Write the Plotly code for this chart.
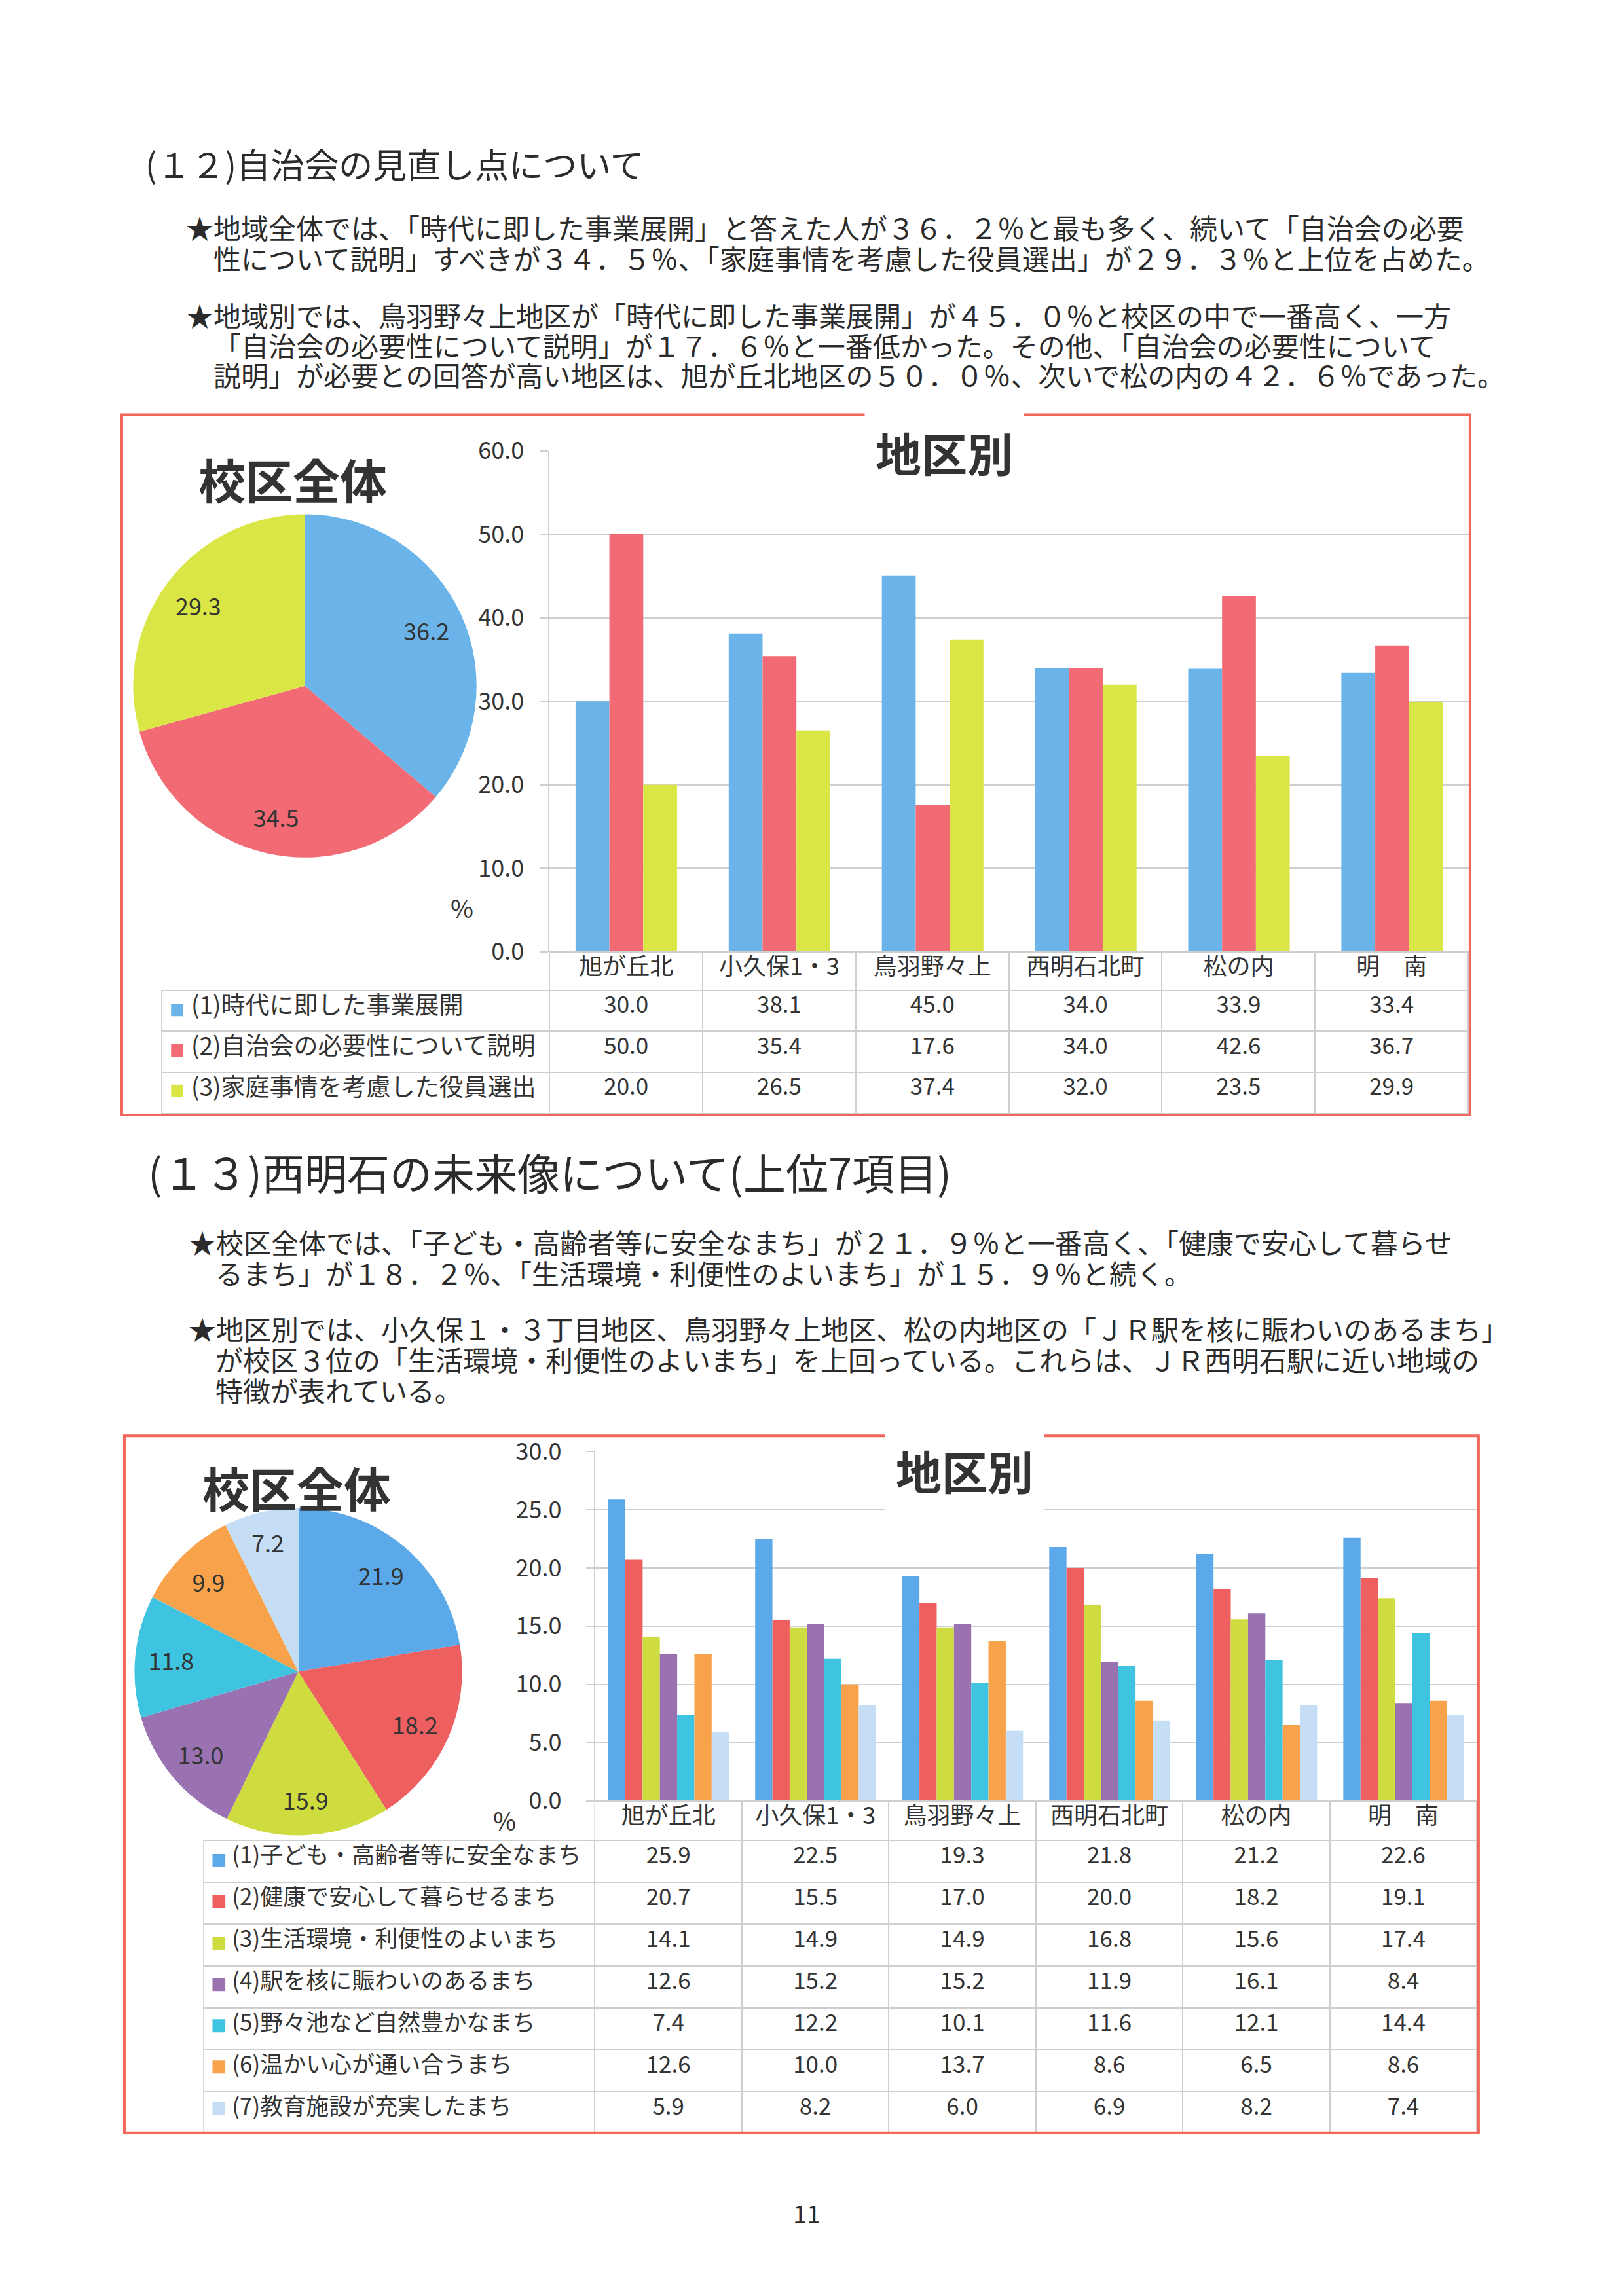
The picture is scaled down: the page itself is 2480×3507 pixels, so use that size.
import plotly.graph_objects as go

W, H = 2480, 3507
FONT = "Noto Sans CJK JP"
TXT = "#2b2b2b"
GRID = "#CFCFCF"
BOX = "#F2665C"

# ---------------- data ----------------
districts = ["旭が丘北", "小久保1・3", "鳥羽野々上", "西明石北町", "松の内", "明　南"]

# (12)
items12 = ["(1)時代に即した事業展開", "(2)自治会の必要性について説明", "(3)家庭事情を考慮した役員選出"]
pie12 = [36.2, 34.5, 29.3]
a12_1 = [30.0, 38.1, 45.0, 34.0, 33.9, 33.4]
a12_2 = [50.0, 35.4, 17.6, 34.0, 42.6, 36.7]
a12_3 = [20.0, 26.5, 37.4, 32.0, 23.5, 29.9]
colors12 = ["#6AB4EA", "#F26B74", "#D9E645"]

# (13)
items13 = ["(1)子ども・高齢者等に安全なまち", "(2)健康で安心して暮らせるまち", "(3)生活環境・利便性のよいまち",
           "(4)駅を核に賑わいのあるまち", "(5)野々池など自然豊かなまち", "(6)温かい心が通い合うまち",
           "(7)教育施設が充実したまち"]
pie13 = [21.9, 18.2, 15.9, 13.0, 11.8, 9.9, 7.2]
b13_1 = [25.9, 22.5, 19.3, 21.8, 21.2, 22.6]
b13_2 = [20.7, 15.5, 17.0, 20.0, 18.2, 19.1]
b13_3 = [14.1, 14.9, 14.9, 16.8, 15.6, 17.4]
b13_4 = [12.6, 15.2, 15.2, 11.9, 16.1, 8.4]
b13_5 = [7.4, 12.2, 10.1, 11.6, 12.1, 14.4]
b13_6 = [12.6, 10.0, 13.7, 8.6, 6.5, 8.6]
b13_7 = [5.9, 8.2, 6.0, 6.9, 8.2, 7.4]
colors13 = ["#5BA9E8", "#EE5F60", "#CFDC40", "#9A72B2", "#3EC4E0", "#F9A24C", "#C6DDF6"]

yticks12 = [0, 10, 20, 30, 40, 50, 60]
yticks13 = [0, 5, 10, 15, 20, 25, 30]

heading12 = "(１２)自治会の見直し点について"
para12 = [
    "★地域全体では、「時代に即した事業展開」と答えた人が３６．２％と最も多く、続いて「自治会の必要",
    "性について説明」すべきが３４．５％、「家庭事情を考慮した役員選出」が２９．３％と上位を占めた。",
    "★地域別では、鳥羽野々上地区が「時代に即した事業展開」が４５．０％と校区の中で一番高く、一方",
    "「自治会の必要性について説明」が１７．６％と一番低かった。その他、「自治会の必要性について",
    "説明」が必要との回答が高い地区は、旭が丘北地区の５０．０％、次いで松の内の４２．６％であった。",
]
heading13 = "(１３)西明石の未来像について(上位7項目)"
para13 = [
    "★校区全体では、「子ども・高齢者等に安全なまち」が２１．９％と一番高く、「健康で安心して暮らせ",
    "るまち」が１８．２％、「生活環境・利便性のよいまち」が１５．９％と続く。",
    "★地区別では、小久保１・３丁目地区、鳥羽野々上地区、松の内地区の「ＪＲ駅を核に賑わいのあるまち」",
    "が校区３位の「生活環境・利便性のよいまち」を上回っている。これらは、ＪＲ西明石駅に近い地域の",
    "特徴が表れている。",
]

# page-pixel -> paper conversion (with small empirical correction for the capture)
SY, OY = 0.9847, 37.8
SX, OX = 0.9976, 8.5


def px(x):
    return ((x - OX) / SX) / W


def py(y):
    return 1 - ((y - OY) / SY) / H


fig = go.Figure()


def add_pie(vals, labels, colors, cx, cy, r):
    dom = dict(x=[px(cx - r), px(cx + r)], y=[py(cy + r), py(cy - r)])
    fig.add_trace(go.Pie(
        values=vals, labels=labels, sort=False, direction="clockwise", rotation=0,
        marker=dict(colors=colors, line=dict(width=0)), domain=dom,
        textinfo="none", showlegend=False, hoverinfo="label+value",
    ))
    # transparent ring used only to place the value labels at ~0.78 r
    fig.add_trace(go.Pie(
        values=vals, labels=labels, sort=False, direction="clockwise", rotation=0, hole=0.56,
        marker=dict(colors=["rgba(0,0,0,0)"] * len(vals), line=dict(width=0)), domain=dom,
        texttemplate="%{value:.1f}", textposition="inside", insidetextorientation="horizontal",
        textfont=dict(family=FONT, size=36, color="#333"), showlegend=False, hoverinfo="skip",
    ))


def add_bars(series, colors, items, bw, xa, ya):
    n = len(series)
    for i, (vals, col, nm) in enumerate(zip(series, colors, items)):
        fig.add_trace(go.Bar(
            x=districts, y=vals, name=nm, marker=dict(color=col, line=dict(width=0)),
            width=bw, offset=-n / 2 * bw + i * bw, xaxis=xa, yaxis=ya, showlegend=False,
        ))


def add_table(series, items, x0, x1, top, head_h, row_h, firstw, colw, label_size):
    n = len(series)
    bottom = top + head_h + n * row_h
    cols = [[f"{s[j]:.1f}" for s in series] for j in range(len(districts))]
    labels = ["\u3000" + t for t in items]
    fig.add_trace(go.Table(
        domain=dict(x=[px(x0), px(x1)], y=[py(bottom + 6), py(top)]),
        columnwidth=[firstw] + [colw] * 6,
        header=dict(values=[""] + districts, height=head_h / SY, align="center",
                    font=dict(family=FONT, size=36, color="#333"),
                    fill=dict(color=["rgba(0,0,0,0)"] + ["white"] * 6),
                    line=dict(color=["rgba(0,0,0,0)"] + [GRID] * 6, width=2)),
        cells=dict(values=[labels] + cols, height=row_h / SY,
                   align=["left"] + ["center"] * 6,
                   font=dict(family=FONT, size=[label_size] + [35] * 6, color="#333"),
                   fill=dict(color=["rgba(0,0,0,0)"] + ["white"] * 6),
                   line=dict(color=GRID, width=2)),
    ))


def add_swatches(items, colors, xa, ya, size):
    # legend squares in the first table column (one per row category)
    fig.add_trace(go.Scatter(
        x=["■"] * len(items), y=items, mode="markers", xaxis=xa, yaxis=ya,
        marker=dict(symbol="square", size=size, color=colors, line=dict(width=0)),
        showlegend=False, hoverinfo="skip",
    ))


# ---------------- chart (12) ----------------
add_pie(pie12, items12, colors12, 465, 1048, 262)
series12 = [a12_1, a12_2, a12_3]
add_bars(series12, colors12, items12, 0.221, "x", "y")
add_swatches(items12, colors12, "x3", "y3", 19)
add_table(series12, items12, 247, 2238, 1454, 58, 61.7, 591, 233.3, 37)

# ---------------- chart (13) ----------------
add_pie(pie13, items13, colors13, 455, 2553, 250)
series13 = [b13_1, b13_2, b13_3, b13_4, b13_5, b13_6, b13_7]
add_bars(series13, colors13, items13, 0.1174, "x2", "y2")
add_swatches(items13, colors13, "x4", "y4", 20)
add_table(series13, items13, 311, 2251, 2750, 60, 63, 596, 224, 35)

# ---------------- layout ----------------
common_y = dict(showgrid=True, gridcolor=GRID, gridwidth=2, showline=True, linecolor=GRID, linewidth=2,
                ticks="outside", ticklen=12, tickcolor=GRID, tickwidth=2, tickformat=".1f",
                tickfont=dict(family=FONT, size=36, color="#333"), zeroline=False, fixedrange=True)
common_x = dict(type="category", showticklabels=False, showgrid=False, zeroline=False,
                showline=False, ticks="", range=[-0.5, 5.5], fixedrange=True)
hidden = dict(visible=False, fixedrange=True, type="category")

annotations = []
annotations.append(dict(text=heading12, x=px(220), y=py(250), xanchor="left", yanchor="middle",
                        font=dict(family=FONT, size=52, color=TXT)))
p12_pos = [(282, 347), (324, 394), (282, 481), (324, 527), (324, 572)]
for t, (x, y) in zip(para12, p12_pos):
    annotations.append(dict(text=t, x=px(x), y=py(y), xanchor="left", yanchor="middle",
                            font=dict(family=FONT, size=42, color=TXT)))
annotations.append(dict(text=heading13, x=px(224), y=py(1789), xanchor="left", yanchor="middle",
                        font=dict(family=FONT, size=65, color=TXT)))
p13_pos = [(286, 1896), (327, 1943), (286, 2028), (327, 2075), (327, 2122)]
for t, (x, y) in zip(para13, p13_pos):
    annotations.append(dict(text=t, x=px(x), y=py(y), xanchor="left", yanchor="middle",
                            font=dict(family=FONT, size=42, color=TXT)))

for txt, x, y, size, bg in [("校区全体", 446, 731, 72, None), ("地区別", 1439, 691, 70, "white"),
                            ("校区全体", 452, 2270, 72, None), ("地区別", 1470, 2245, 70, "white")]:
    a = dict(text=f"<b>{txt}</b>", x=px(x), y=py(y), xanchor="center", yanchor="middle",
             font=dict(family=FONT, size=size, color="#333"))
    if bg:
        a.update(bgcolor=bg, borderpad=16)
    annotations.append(a)

annotations.append(dict(text="%", x=px(704), y=py(1386), xanchor="center", yanchor="middle",
                        font=dict(family=FONT, size=38, color="#333")))
annotations.append(dict(text="%", x=px(769), y=py(2779), xanchor="center", yanchor="middle",
                        font=dict(family=FONT, size=38, color="#333")))
annotations.append(dict(text="11", x=px(1230), y=py(3379), xanchor="center", yanchor="middle",
                        font=dict(family=FONT, size=38, color=TXT)))
for a in annotations:
    a.update(xref="paper", yref="paper", showarrow=False)

shapes = [
    dict(type="rect", xref="paper", yref="paper", x0=px(186), x1=px(2240), y0=py(1703), y1=py(634),
         line=dict(color=BOX, width=4), fillcolor="rgba(0,0,0,0)", layer="above"),
    dict(type="rect", xref="paper", yref="paper", x0=px(190), x1=px(2253), y0=py(3257), y1=py(2193),
         line=dict(color=BOX, width=4), fillcolor="rgba(0,0,0,0)", layer="above"),
]

fig.update_layout(
    width=W, height=H, margin=dict(l=0, r=0, t=0, b=0),
    paper_bgcolor="white", plot_bgcolor="rgba(0,0,0,0)", barmode="overlay",
    font=dict(family=FONT, color=TXT),
    xaxis=dict(domain=[px(838), px(2238)], anchor="y", **common_x),
    yaxis=dict(domain=[py(1454), py(689)], anchor="x", range=[0, 60], tickvals=yticks12,
               ticklabelstandoff=18, **common_y),
    xaxis2=dict(domain=[px(907), px(2251)], anchor="y2", **common_x),
    yaxis2=dict(domain=[py(2750), py(2217)], anchor="x2", range=[0, 30], tickvals=yticks13,
                ticklabelstandoff=30, **common_y),
    # swatch axes: rows of the first table column
    xaxis3=dict(domain=[px(261), px(280)], anchor="y3", **hidden),
    yaxis3=dict(domain=[py(1697), py(1512)], anchor="x3", range=[2.5, -0.5], **hidden),
    xaxis4=dict(domain=[px(324), px(344)], anchor="y4", **hidden),
    yaxis4=dict(domain=[py(3251), py(2810)], anchor="x4", range=[6.5, -0.5], **hidden),
    annotations=annotations, shapes=shapes,
)

fig.write_html("out.html")
